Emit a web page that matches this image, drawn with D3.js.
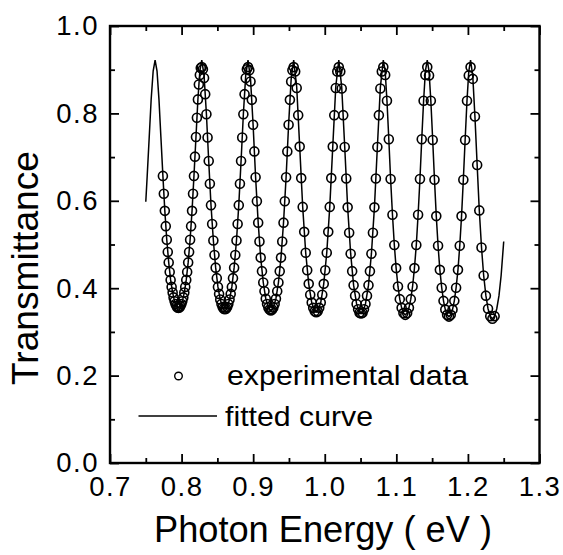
<!DOCTYPE html>
<html>
<head>
<meta charset="utf-8">
<script src="https://cdn.jsdelivr.net/npm/d3@7"></script>
<style>
  html, body { margin: 0; padding: 0; background: #fff; }
  svg { display: block; }
  text { font-family: "Liberation Sans", Arial, Helvetica, sans-serif; fill: #000; }
</style>
</head>
<body>
<svg id="chart" width="563" height="555"></svg>
<script>
// ---------- data ----------
const dataE = [
  0.7739,0.7752,0.7766,0.7779,0.7793,0.7807,0.7820,0.7834,0.7847,0.7861,0.7875,0.7888,0.7902,0.7915,0.7929,0.7942,0.7956,0.7970,0.7983,0.7997,
  0.8010,0.8024,0.8038,0.8051,0.8065,0.8078,0.8092,0.8105,0.8119,0.8133,0.8146,0.8160,0.8173,0.8187,0.8201,0.8214,0.8228,0.8241,0.8255,0.8268,
  0.8282,0.8298,0.8314,0.8330,0.8347,0.8363,0.8379,0.8395,0.8411,0.8427,0.8444,0.8460,0.8476,0.8492,0.8508,0.8524,0.8540,0.8557,0.8573,0.8589,
  0.8605,0.8621,0.8637,0.8653,0.8670,0.8686,0.8702,0.8718,0.8734,0.8750,0.8767,0.8783,0.8799,0.8815,0.8831,0.8847,0.8863,0.8880,0.8896,0.8912,
  0.8928,0.8946,0.8963,0.8981,0.8999,0.9017,0.9034,0.9052,0.9070,0.9088,0.9105,0.9123,0.9141,0.9158,0.9176,0.9194,0.9212,0.9229,
  0.9247,0.9265,0.9282,0.9300,0.9318,0.9336,0.9353,0.9371,0.9389,0.9406,0.9424,0.9442,0.9460,0.9477,0.9495,0.9513,0.9531,0.9548,
  0.9566,0.9587,0.9608,0.9629,0.9650,0.9671,0.9692,0.9713,0.9734,0.9755,0.9776,0.9797,0.9818,0.9839,0.9860,
  0.9881,0.9902,0.9923,0.9944,0.9965,0.9986,1.0007,1.0028,1.0049,1.0070,1.0091,1.0112,1.0133,1.0154,1.0175,
  1.0196,1.0217,1.0237,1.0258,1.0279,1.0300,1.0320,1.0341,1.0362,1.0383,1.0403,1.0424,1.0445,1.0466,1.0486,
  1.0507,1.0528,1.0548,1.0569,1.0590,1.0611,1.0631,1.0652,1.0673,1.0694,1.0714,1.0735,1.0756,1.0777,1.0797,
  1.0818,1.0844,1.0869,1.0895,1.0920,1.0946,1.0972,1.0997,1.1023,1.1048,1.1074,1.1099,
  1.1125,1.1151,1.1176,1.1202,1.1227,1.1253,1.1279,1.1304,1.1330,1.1355,1.1381,1.1406,
  1.1432,1.1457,1.1482,1.1508,1.1533,1.1558,1.1583,1.1608,1.1634,1.1659,1.1684,1.1709,
  1.1735,1.1760,1.1785,1.1810,1.1835,1.1861,1.1886,1.1911,1.1936,1.1961,1.1987,1.2012,
  1.2037,1.2068,1.2098,1.2129,1.2159,1.2190,1.2220,1.2251,1.2281,1.2312,1.2342,1.2373
];
const dataT = [
  0.657,0.616,0.577,0.542,0.511,0.483,0.459,0.437,0.419,0.403,0.390,0.379,0.370,0.364,0.359,0.356,0.355,0.356,0.359,0.364,
  0.370,0.379,0.390,0.403,0.419,0.437,0.459,0.483,0.511,0.542,0.577,0.616,0.657,0.701,0.746,0.790,0.832,0.866,0.888,0.904,
  0.906,0.901,0.881,0.844,0.798,0.745,0.691,0.639,0.590,0.547,0.509,0.476,0.447,0.423,0.403,0.387,0.374,0.364,0.357,0.353,
  0.352,0.353,0.357,0.364,0.374,0.387,0.403,0.423,0.447,0.476,0.509,0.547,0.590,0.639,0.691,0.745,0.798,0.844,0.881,0.901,
  0.906,0.899,0.873,0.831,0.774,0.713,0.654,0.599,0.550,0.507,0.470,0.439,0.413,0.393,0.376,0.364,0.356,0.351,
  0.349,0.351,0.356,0.364,0.376,0.393,0.413,0.439,0.470,0.507,0.550,0.599,0.654,0.713,0.774,0.831,0.873,0.899,
  0.906,0.896,0.858,0.796,0.724,0.652,0.586,0.529,0.481,0.441,0.410,0.385,0.367,0.355,0.347,
  0.345,0.347,0.355,0.367,0.385,0.410,0.441,0.481,0.529,0.586,0.652,0.724,0.796,0.858,0.896,
  0.906,0.896,0.857,0.796,0.723,0.651,0.585,0.527,0.479,0.439,0.407,0.383,0.364,0.352,0.344,
  0.342,0.344,0.352,0.364,0.383,0.407,0.439,0.479,0.527,0.585,0.651,0.723,0.796,0.857,0.896,
  0.906,0.888,0.829,0.741,0.650,0.568,0.499,0.446,0.404,0.375,0.355,0.343,
  0.339,0.343,0.355,0.375,0.404,0.446,0.499,0.568,0.650,0.741,0.829,0.888,
  0.906,0.887,0.829,0.739,0.648,0.565,0.497,0.442,0.401,0.371,0.351,0.339,
  0.335,0.339,0.351,0.371,0.401,0.442,0.497,0.565,0.648,0.739,0.829,0.887,
  0.906,0.879,0.793,0.682,0.578,0.493,0.429,0.383,0.353,0.336,0.330,0.336
];
const fitE = [
  0.7500,0.7520,0.7548,0.7575,0.7603,
  0.7630,0.7657,0.7684,0.7711,0.7739,0.7766,0.7793,0.7820,0.7847,0.7875,0.7902,0.7929,
  0.7956,0.7983,0.8010,0.8038,0.8065,0.8092,0.8119,0.8146,0.8173,0.8201,0.8228,0.8255,
  0.8282,0.8314,0.8347,0.8379,0.8411,0.8444,0.8476,0.8508,0.8540,0.8573,
  0.8605,0.8637,0.8670,0.8702,0.8734,0.8767,0.8799,0.8831,0.8863,0.8896,
  0.8928,0.8963,0.8999,0.9034,0.9070,0.9105,0.9141,0.9176,0.9212,
  0.9247,0.9282,0.9318,0.9353,0.9389,0.9424,0.9460,0.9495,0.9531,
  0.9566,0.9608,0.9650,0.9692,0.9734,0.9776,0.9818,0.9860,0.9881,0.9902,0.9944,0.9986,1.0028,1.0070,1.0112,1.0154,
  1.0196,1.0237,1.0279,1.0320,1.0362,1.0403,1.0445,1.0486,1.0507,1.0528,1.0569,1.0611,1.0652,1.0694,1.0735,1.0777,
  1.0818,1.0844,1.0869,1.0895,1.0920,1.0946,1.0972,1.0997,1.1023,1.1048,1.1074,1.1099,
  1.1125,1.1151,1.1176,1.1202,1.1227,1.1253,1.1279,1.1304,1.1330,1.1355,1.1381,1.1406,
  1.1432,1.1457,1.1482,1.1508,1.1533,1.1558,1.1583,1.1608,1.1634,1.1659,1.1684,1.1709,
  1.1735,1.1760,1.1785,1.1810,1.1835,1.1861,1.1886,1.1911,1.1936,1.1961,1.1987,1.2012,
  1.2037,1.2068,1.2098,1.2129,1.2159,1.2190,1.2220,1.2251,1.2281,1.2312,1.2342,1.2373,1.2403,1.2434,1.2464,1.2500
];
const fitT = [
  0.598,0.658,0.746,0.832,0.897,
  0.922,0.897,0.832,0.746,0.657,0.577,0.511,0.459,0.419,0.390,0.370,0.359,
  0.355,0.359,0.370,0.390,0.419,0.459,0.511,0.577,0.657,0.746,0.832,0.897,
  0.922,0.887,0.798,0.691,0.590,0.509,0.447,0.403,0.374,0.357,
  0.352,0.357,0.374,0.403,0.447,0.509,0.590,0.691,0.798,0.887,
  0.922,0.879,0.774,0.654,0.550,0.470,0.413,0.376,0.356,
  0.349,0.356,0.376,0.413,0.470,0.550,0.654,0.774,0.879,
  0.922,0.861,0.724,0.586,0.481,0.410,0.367,0.347,0.345,0.347,0.367,0.410,0.481,0.586,0.724,0.861,
  0.922,0.860,0.723,0.585,0.479,0.407,0.364,0.344,0.342,0.344,0.364,0.407,0.479,0.585,0.723,0.860,
  0.922,0.897,0.829,0.741,0.650,0.568,0.499,0.446,0.404,0.375,0.355,0.343,
  0.339,0.343,0.355,0.375,0.404,0.446,0.499,0.568,0.650,0.741,0.829,0.897,
  0.922,0.896,0.829,0.739,0.648,0.565,0.497,0.442,0.401,0.371,0.351,0.339,
  0.335,0.339,0.351,0.371,0.401,0.442,0.497,0.565,0.648,0.739,0.829,0.896,
  0.922,0.885,0.793,0.682,0.578,0.493,0.429,0.383,0.353,0.336,0.330,0.336,0.353,0.383,0.429,0.507
];
const xMajorTicks = [0.7, 0.8, 0.9, 1.0, 1.1, 1.2, 1.3];
const xMinorTicks = [0.75, 0.85, 0.95, 1.05, 1.15, 1.25];
const yMajorTicks = [0.0, 0.2, 0.4, 0.6, 0.8, 1.0];
const yMinorTicks = [0.1, 0.3, 0.5, 0.7, 0.9];
const xTitle = "Photon Energy ( eV )";
const yTitle = "Transmittance";
const legendLabels = ["experimental data", "fitted curve"];

// ---------- layout ----------
const L = 110, R = 539.5, T = 26, B = 463;
const svg = d3.select("#chart");
svg.append("rect").attr("width", 563).attr("height", 555).attr("fill", "#fff");

const x = d3.scaleLinear().domain([0.7, 1.3]).range([L, R]);
const y = d3.scaleLinear().domain([0, 1.0]).range([B, T]);

const fmt = d3.format(".1f");
const tickFont = 27.5;

function styleAxis(g) {
  g.select(".domain").remove();
  g.selectAll(".tick line").attr("stroke", "#000").attr("stroke-width", 1.8);
  g.selectAll(".tick text")
    .attr("font-size", tickFont)
    .attr("font-family", '"Liberation Sans", Arial, sans-serif')
    .attr("letter-spacing", "1.5px")
    .attr("fill", "#000");
}

// bottom
svg.append("g").attr("transform", `translate(0,${B})`)
  .call(d3.axisBottom(x).tickValues(xMajorTicks).tickSize(-9).tickPadding(13).tickFormat(fmt))
  .call(styleAxis);
svg.append("g").attr("transform", `translate(0,${B})`)
  .call(d3.axisBottom(x).tickValues(xMinorTicks).tickSize(-5).tickFormat(""))
  .call(styleAxis);
// top
svg.append("g").attr("transform", `translate(0,${T})`)
  .call(d3.axisTop(x).tickValues(xMajorTicks).tickSize(-9).tickFormat(""))
  .call(styleAxis);
svg.append("g").attr("transform", `translate(0,${T})`)
  .call(d3.axisTop(x).tickValues(xMinorTicks).tickSize(-5).tickFormat(""))
  .call(styleAxis);
// left
svg.append("g").attr("transform", `translate(${L},0)`)
  .call(d3.axisLeft(y).tickValues(yMajorTicks).tickSize(-9).tickPadding(11).tickFormat(fmt))
  .call(styleAxis);
svg.append("g").attr("transform", `translate(${L},0)`)
  .call(d3.axisLeft(y).tickValues(yMinorTicks).tickSize(-5).tickFormat(""))
  .call(styleAxis);
// right
svg.append("g").attr("transform", `translate(${R},0)`)
  .call(d3.axisRight(y).tickValues(yMajorTicks).tickSize(-9).tickFormat(""))
  .call(styleAxis);
svg.append("g").attr("transform", `translate(${R},0)`)
  .call(d3.axisRight(y).tickValues(yMinorTicks).tickSize(-5).tickFormat(""))
  .call(styleAxis);

// frame
svg.append("rect")
  .attr("x", L).attr("y", T).attr("width", R - L).attr("height", B - T)
  .attr("fill", "none").attr("stroke", "#000").attr("stroke-width", 2.4);

// fitted curve
const fitData = fitE.map((e, i) => [e, fitT[i]]);
svg.append("path")
  .datum(fitData)
  .attr("d", d3.line().x(d => x(d[0])).y(d => y(d[1])))
  .attr("fill", "none").attr("stroke", "#000").attr("stroke-width", 1.5)
  .attr("stroke-linejoin", "miter");

// experimental data
const expData = dataE.map((e, i) => [e, dataT[i]]);
svg.append("g").selectAll("circle")
  .data(expData)
  .join("circle")
  .attr("cx", d => x(d[0]))
  .attr("cy", d => y(d[1]))
  .attr("r", 4.5)
  .attr("fill", "none")
  .attr("stroke", "#000")
  .attr("stroke-width", 1.6);

// legend
const lg = svg.append("g");
lg.append("circle").attr("cx", 178.5).attr("cy", 376).attr("r", 3.8)
  .attr("fill", "none").attr("stroke", "#000").attr("stroke-width", 1.4);
lg.append("text").attr("x", 227).attr("y", 384.5)
  .attr("font-size", 28).attr("textLength", 241).attr("lengthAdjust", "spacingAndGlyphs")
  .text(legendLabels[0]);
lg.append("line").attr("x1", 138.5).attr("x2", 217).attr("y1", 416).attr("y2", 416)
  .attr("stroke", "#000").attr("stroke-width", 1.4);
lg.append("text").attr("x", 225).attr("y", 425.5)
  .attr("font-size", 28).attr("textLength", 148).attr("lengthAdjust", "spacingAndGlyphs")
  .text(legendLabels[1]);

// axis titles
svg.append("text")
  .attr("x", 323).attr("y", 542)
  .attr("text-anchor", "middle")
  .attr("font-size", 36)
  .attr("textLength", 338).attr("lengthAdjust", "spacingAndGlyphs")
  .text(xTitle);
svg.append("text")
  .attr("transform", "translate(38,268) rotate(-90)")
  .attr("text-anchor", "middle")
  .attr("font-size", 36)
  .attr("textLength", 234).attr("lengthAdjust", "spacingAndGlyphs")
  .text(yTitle);
</script>
</body>
</html>
